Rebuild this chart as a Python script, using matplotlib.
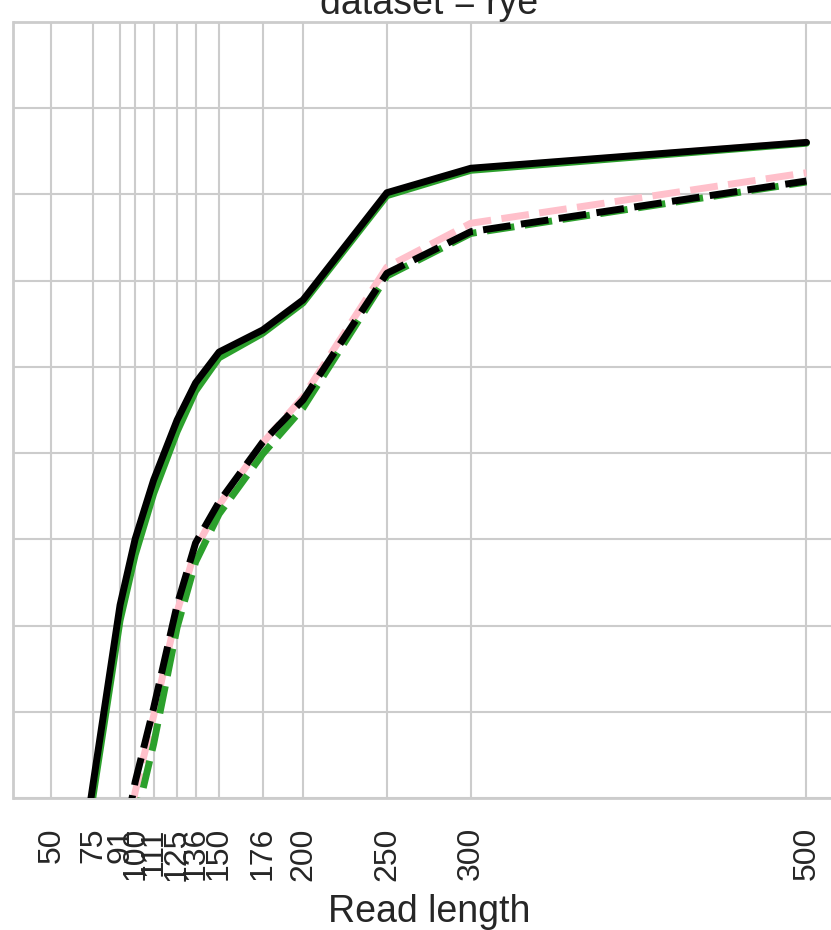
import matplotlib
matplotlib.use("Agg")
import matplotlib.pyplot as plt

plt.rcParams['font.family'] = ['Liberation Sans', 'DejaVu Sans']

# ---- data ----
read_length = [50, 75, 91, 100, 111, 125, 136, 150, 176, 200, 250, 300, 500]
tick_labels = ["50", "75", "91", "100", "111", "125", "136", "150", "176", "200", "250", "300", "500"]

# solid series (all read lengths)
solid_pink = [0.3405, 0.5052, 0.6079, 0.6461, 0.6809, 0.7163, 0.7389, 0.7572, 0.7705, 0.7879, 0.8503, 0.8648, 0.8801]
solid_green = [0.3365, 0.5017, 0.6030, 0.6410, 0.6765, 0.7125, 0.7360, 0.7553, 0.7695, 0.7871, 0.8493, 0.8640, 0.8797]
solid_black = [0.3440, 0.5087, 0.6119, 0.6502, 0.6844, 0.7192, 0.7407, 0.7586, 0.7714, 0.7888, 0.8510, 0.8652, 0.8802]

# dashed series (from 91 on)
dashed_x = [91, 100, 111, 125, 136, 150, 176, 200, 250, 300, 500]
dashed_pink = [0.4553, 0.5035, 0.5476, 0.6080, 0.6444, 0.6699, 0.7059, 0.7325, 0.8079, 0.8333, 0.8626]
dashed_green = [0.4408, 0.4861, 0.5313, 0.5990, 0.6369, 0.6647, 0.6995, 0.7262, 0.8027, 0.8274, 0.8572]
dashed_black = [0.4640, 0.5093, 0.5522, 0.6120, 0.6479, 0.6717, 0.7064, 0.7308, 0.8043, 0.8284, 0.8578]

y_grid = [0.50, 0.55, 0.60, 0.65, 0.70, 0.75, 0.80, 0.85, 0.90, 0.95]

# ---- figure ----
W, H = 831, 930
fig = plt.figure(figsize=(W / 100, H / 100), dpi=100)
left_px, right_px, top_px, bot_px = 13.5, 844.2, 22, 798
ax = fig.add_axes([left_px / W, (H - bot_px) / H, (right_px - left_px) / W, (bot_px - top_px) / H])

grid_c = "#cccccc"
ax.set_axisbelow(True)
ax.grid(True, color=grid_c, linewidth=1.5)
for s in ax.spines.values():
    s.set_color(grid_c)
    s.set_linewidth(2.0)

lw = 5.0
pink = "#ffc0cb"
green = "#2ca02c"
black = "#000000"

ax.plot(read_length, solid_pink, color=pink, lw=lw, solid_capstyle="round", zorder=3)
ax.plot(dashed_x, dashed_pink, color=pink, lw=lw, dashes=(4, 1.5), zorder=3)
ax.plot(read_length, solid_green, color=green, lw=lw, solid_capstyle="round", zorder=4)
ax.plot(dashed_x, dashed_green, color=green, lw=lw, dashes=(4, 1.5), zorder=4)
ax.plot(read_length, solid_black, color=black, lw=lw, solid_capstyle="round", zorder=5)
ax.plot(dashed_x, dashed_black, color=black, lw=lw, dashes=(4, 1.5), zorder=5)

ax.set_xlim(27.5, 522.5)
ax.set_ylim(y_grid[0], y_grid[-1])
ax.set_xticks(read_length)
ax.set_xticklabels(tick_labels, rotation=90, fontsize=23, color="#262626")
ax.set_yticks(y_grid)
ax.set_yticklabels([])
ax.tick_params(axis="both", length=0, pad=21)
ax.tick_params(axis="y", pad=0)

ax.set_xlabel("Read length", fontsize=27, color="#262626", labelpad=10)
ax.set_title("dataset = rye", fontsize=27, color="#262626", pad=6)

fig.savefig("out.png", dpi=100)
